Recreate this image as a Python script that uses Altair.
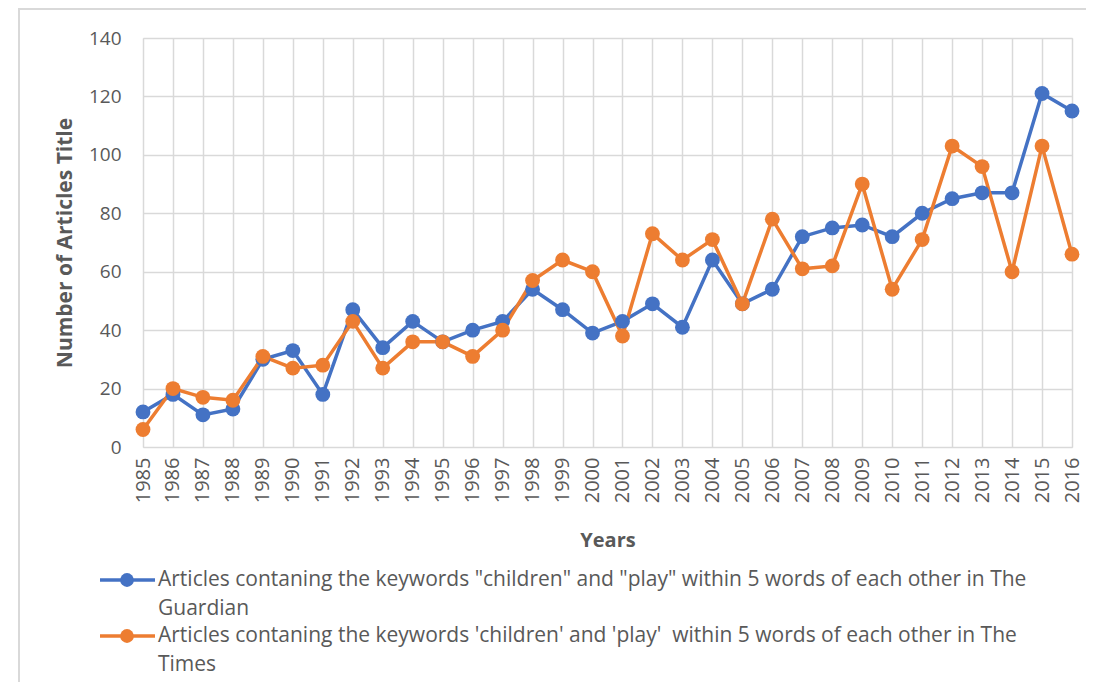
import altair as alt
import pandas as pd

years = list(range(1985, 2017))
guardian = [12, 18, 11, 13, 30, 33, 18, 47, 34, 43, 36, 40, 43, 54, 47, 39,
            43, 49, 41, 64, 49, 54, 72, 75, 76, 72, 80, 85, 87, 87, 121, 115]
times = [6, 20, 17, 16, 31, 27, 28, 43, 27, 36, 36, 31, 40, 57, 64, 60,
         38, 73, 64, 71, 49, 78, 61, 62, 90, 54, 71, 103, 96, 60, 103, 66]
series_names = ["The Guardian", "The Times"]
series_colors = ["#4472C4", "#ED7D31"]
legend_lines = [
    ['Articles contaning the keywords "children" and "play" within 5 words of each other in The', 'Guardian'],
    ["Articles contaning the keywords 'children' and 'play'\u00a0 within 5 words of each other in The", 'Times'],
]

rows = []
for y, g, t in zip(years, guardian, times):
    rows.append({"Year": str(y), "Count": g, "Series": series_names[0]})
    rows.append({"Year": str(y), "Count": t, "Series": series_names[1]})
df = pd.DataFrame(rows)

W, H = 929, 409
FONT = "Open Sans"
GREY = "#595959"

color = alt.Color("Series:N", scale=alt.Scale(domain=series_names, range=series_colors), legend=None)
x = alt.X("Year:O", scale=alt.Scale(type="point", padding=0),
          axis=alt.Axis(title="Years", labelAngle=-90, labelAlign="right", labelBaseline="middle",
                        labelPadding=10, labelFontSize=20, labelColor=GREY, labelFont=FONT,
                        titleFont=FONT, titleFontSize=20, titleFontWeight="bold", titleColor=GREY,
                        titlePadding=28, ticks=False, domain=False, grid=True,
                        gridColor="#d9d9d9", gridWidth=1.5))
y = alt.Y("Count:Q", scale=alt.Scale(domain=[0, 140], nice=False),
          axis=alt.Axis(title="Number of Articles Title", values=list(range(0, 141, 20)),
                        labelFontSize=19, labelColor=GREY, labelFont=FONT, labelPadding=22,
                        titleFont=FONT, titleFontSize=21, titleFontWeight="bold", titleColor=GREY,
                        titlePadding=13, ticks=False, domain=False, grid=True,
                        gridColor="#d9d9d9", gridWidth=1.5))

base = alt.Chart(df)
lines = base.mark_line(strokeWidth=3.5).encode(x=x, y=y, color=color, detail="Series:N")
points = base.mark_circle(size=220, opacity=1).encode(x=x, y=y, color=color)

# outer border
border = alt.Chart(pd.DataFrame({"a": [0]})).mark_rect(fill=None, stroke="#d9d9d9", strokeWidth=2).encode(
    x=alt.value(-124), x2=alt.value(W + 60), y=alt.value(-29), y2=alt.value(H + 260))

# custom legend
leg_rows = []
for i, (name, lines_txt) in enumerate(zip(series_names, legend_lines)):
    leg_rows.append({"Series": name, "line1": lines_txt[0], "line2": lines_txt[1], "i": i})
leg_df = pd.DataFrame(leg_rows)
leg_layers = []
for i, name in enumerate(series_names):
    yy = 542 + i * 56
    sub = alt.Chart(leg_df[leg_df["i"] == i])
    leg_layers.append(sub.mark_rule(strokeWidth=3.5).encode(
        x=alt.value(-43), x2=alt.value(12), y=alt.value(yy), color=color))
    leg_layers.append(sub.mark_circle(size=190, opacity=1).encode(
        x=alt.value(-16), y=alt.value(yy), color=color))
    leg_layers.append(sub.mark_text(align="left", baseline="middle", font=FONT, fontSize=21,
                                    color=GREY).encode(
        x=alt.value(15), y=alt.value(yy), text="line1:N"))
    leg_layers.append(sub.mark_text(align="left", baseline="middle", font=FONT, fontSize=21,
                                    color=GREY).encode(
        x=alt.value(15), y=alt.value(yy + 29), text="line2:N"))

chart = alt.layer(border, lines, points, *leg_layers).properties(
    width=W, height=H,
    autosize=alt.AutoSizeParams(type="none"),
    padding={"left": 135, "top": 30, "right": 14, "bottom": 235},
).configure_view(stroke=None).configure(background="white")

chart.save("out.html", embed_options={"renderer": "svg", "actions": False})
